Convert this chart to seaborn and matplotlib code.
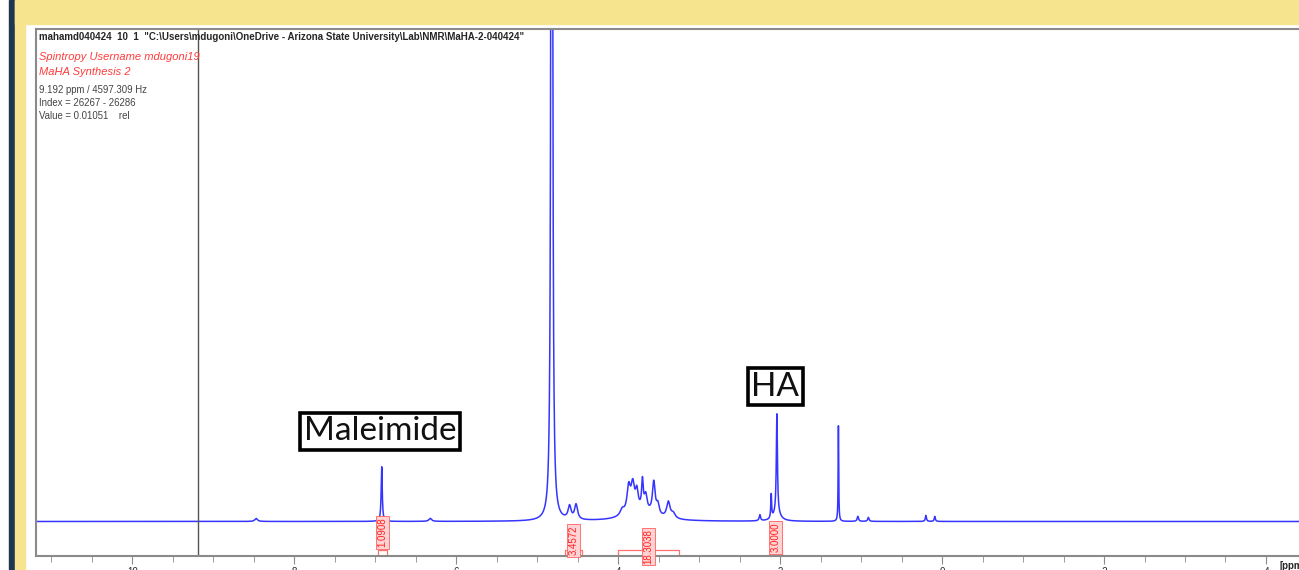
import numpy as np
import pandas as pd
import matplotlib
matplotlib.use("Agg")
import matplotlib.pyplot as plt
from matplotlib.patches import Rectangle
from matplotlib.ticker import MultipleLocator, FixedLocator
import seaborn as sns

# ---- data ----
peak_ppm    = [8.47, 6.92, 6.32, 4.82, 4.60, 4.52, 3.72, 3.95, 3.87, 3.82, 3.77, 3.70, 3.66, 3.56, 3.51, 3.38, 3.32, 2.25, 2.11, 2.04, 2.04, 1.28, 1.04, 0.91, 0.20, 0.09]
peak_height = [3,    55,   3,    3000, 13,   15,   10,   6,    26,   26,   18,   28,   15,   32,   10,   16,   5,    6,    24,   100,  8,    98,   5,    4,    6,    5]
peak_width  = [0.02, 0.008,0.02, 0.006,0.022,0.022,0.2,  0.03, 0.025,0.025,0.02, 0.012,0.02, 0.02, 0.02, 0.025,0.03, 0.01, 0.006,0.008,0.05, 0.004,0.01, 0.01, 0.008,0.008]

int_start  = [6.97, 4.66, 4.00, 2.13]
int_end    = [6.86, 4.45, 3.25, 1.98]
int_values = ["1.0908", "3.4572", "18.3038", "3.0000"]
int_label_y = [-11, -19, -25, -16]

annot_text = ["Maleimide", "HA"]
annot_ppm  = [6.94, 2.06]
annot_y    = [90, 135]

cursor_ppm = 9.192
x_major = [10, 8, 6, 4, 2, 0, -2, -4]

header = 'mahamd040424  10  1  "C:\\Users\\mdugoni\\OneDrive - Arizona State University\\Lab\\NMR\\MaHA-2-040424"'
red_lines = ["Spintropy Username mdugoni19", "MaHA Synthesis 2"]
grey_lines = ["9.192 ppm / 4597.309 Hz", "Index = 26267 - 26286", "Value = 0.01051    rel"]

# ---- spectrum from peak list (Lorentzian line shapes) ----
ppm = np.linspace(11.19, -4.67, 12000)
inten = np.zeros_like(ppm)
for p, h, w in zip(peak_ppm, peak_height, peak_width):
    inten += h * w**2 / ((ppm - p)**2 + w**2)
df = pd.DataFrame({"ppm": ppm, "intensity": inten})

sns.set_style("white")
plt.rcParams["font.family"] = ["Liberation Sans", "DejaVu Sans"]

W, H = 1299, 570
fig = plt.figure(figsize=(W/100, H/100), dpi=100)
fig.patch.set_facecolor("white")

def fx(px): return px / W
def fy(py): return 1 - py / H

# background frame
fig.patches.append(Rectangle((fx(9), 0), fx(6), 1, transform=fig.transFigure, color="#1f3652", zorder=0))
fig.patches.append(Rectangle((fx(15), 0), fx(10), 1, transform=fig.transFigure, color="#f6e48f", zorder=0))
fig.patches.append(Rectangle((fx(15), fy(24)), 1, 24/H, transform=fig.transFigure, color="#f6e48f", zorder=0))

ax = fig.add_axes([fx(36), fy(556), (1320-36)/W, (556-29)/H])
ax.set_facecolor("white")
sns.lineplot(data=df, x="ppm", y="intensity", ax=ax, color="#3535ff", linewidth=1.1,
             estimator=None, sort=False)
ax.set_xlim(11.189, -4.667)
ax.set_ylim(-34.5, 492.5)
ax.set_xlabel("")
ax.set_ylabel("")
ax.set_yticks([])
for s in ["left", "top", "bottom"]:
    ax.spines[s].set_color("#8a8a8a")
    ax.spines[s].set_linewidth(1.5)
ax.spines["right"].set_visible(False)
ax.xaxis.set_major_locator(FixedLocator(x_major))
ax.xaxis.set_minor_locator(MultipleLocator(0.5))
ax.set_xticklabels([str(v) for v in x_major])
ax.tick_params(axis="x", which="both", direction="out", bottom=True, color="#8a8a8a", labelsize=7)
ax.tick_params(axis="x", which="major", length=6, pad=2)
ax.tick_params(axis="x", which="minor", length=4)
fig.text(fx(1279), fy(566), "[ppm]", fontsize=7, fontweight="bold", va="center", ha="left")

# cursor line
ax.axvline(cursor_ppm, color="#555555", linewidth=1.0)

# integrals
bracket_y = -28
for s, e, v, ly in zip(int_start, int_end, int_values, int_label_y):
    c = 0.5 * (s + e)
    ax.plot([s, s, e, e], [-34.5, bracket_y, bracket_y, -34.5], color="#ff7070", linewidth=0.9, clip_on=False)
    ax.text(c, ly, v, rotation=90, ha="center", va="center", fontsize=7, color="#ff2020", zorder=5,
            bbox=dict(boxstyle="square,pad=0.15", fc="#ffd3d3", ec="#ff6060", lw=0.6))

# annotations
for t, p, y in zip(annot_text, annot_ppm, annot_y):
    ax.text(p, y, t, ha="center", va="center", fontsize=24, family=["Lato", "DejaVu Sans"], color="#111111",
            bbox=dict(boxstyle="square,pad=0.1", fc="white", ec="black", lw=2.6))

# header texts
fig.text(fx(39), fy(37), header, fontsize=7.0, fontweight="bold", va="center", ha="left")
for i, t in enumerate(red_lines):
    fig.text(fx(39), fy(57 + 14.5 * i), t, fontsize=8.0, style="italic", color="#ff3b3b", va="center", ha="left")
for i, t in enumerate(grey_lines):
    fig.text(fx(39), fy(90 + 13 * i), t, fontsize=6.9, color="#444444", va="center", ha="left")

fig.savefig("out.png", dpi=100, facecolor="white")
